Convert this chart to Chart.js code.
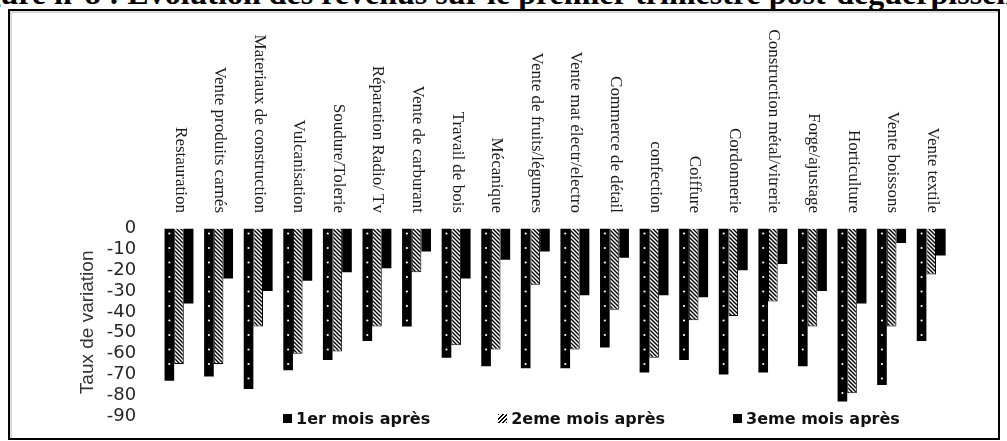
<!DOCTYPE html>
<html>
<head>
<meta charset="utf-8">
<script src="https://cdn.jsdelivr.net/npm/chart.js@4.4.1/dist/chart.umd.min.js"></script>
<style>
  html, body { margin: 0; padding: 0; background: #fff; overflow: hidden; }
  #page { position: relative; width: 1007px; height: 441px; overflow: hidden; }
  #frame { position: absolute; left: 8px; top: 9px; width: 992px; height: 431px;
           border: 2.5px solid #000; box-sizing: border-box; background: #fff;
           box-shadow: inset 2px 2px 0 #d8d8d8; }
  #title { position: absolute; left: -44px; top: -23px; white-space: nowrap;
           font: bold 32px/32px "Liberation Serif", serif; color: #000; }
  #wrap { position: absolute; left: 0; top: 0; width: 1007px; height: 450px; }
  #legend { position: absolute; left: 283px; top: 409px; display: flex; gap: 68px;
            font: bold 16px "DejaVu Sans", sans-serif; color: #111; }
  .item { display: flex; align-items: center; }
  .mk { width: 9px; height: 9px; margin-right: 4px; }
</style>
</head>
<body>
<div id="page">
  <div id="frame"></div>
  <div id="title">Figure n°8 : Evolution des revenus sur le premier trimestre post-déguerpissement</div>
  <div id="wrap"><canvas id="c"></canvas></div>
  <div id="legend"></div>
</div>
<script>
/* ---- Données ---- */
const categories = ['Restauration', 'Vente produits carnés', 'Materiaux de construction', 'Vulcanisation',
  'Soudure/Tolerie', 'Réparation Radio/ Tv', 'Vente de carburant', 'Travail de bois', 'Mécanique',
  'Vente de fruits/légumes', 'Vente mat électr/electro', 'Commerce de détail', 'confection', 'Coiffure',
  'Cordonnerie', 'Construction métal/vitrerie', 'Forge/ajustage', 'Horticulture', 'Vente boissons', 'Vente textile'];

const seriesNames = ['1er mois après', '2eme mois après', '3eme mois après'];

const mois1 = [-73, -71, -77, -68, -63, -54, -47, -62, -66, -67, -67, -57, -69, -63, -70, -69, -66, -83, -75, -54];
const mois2 = [-65, -65, -47, -60, -59, -47, -21, -56, -58, -27, -58, -39, -62, -44, -42, -35, -47, -79, -47, -22];
const mois3 = [-36, -24, -30, -25, -21, -19, -11, -24, -15, -11, -32, -14, -32, -33, -20, -17, -30, -36, -7, -13];

const yTicks = [0, -10, -20, -30, -40, -50, -60, -70, -80, -90];

/* ---- Motif hachuré ---- */
const canvas = document.getElementById('c');
function makeHatch() {
  const p = document.createElement('canvas');
  p.width = 4; p.height = 4;
  const g = p.getContext('2d');
  g.fillStyle = '#fff';
  g.fillRect(0, 0, 4, 4);
  g.strokeStyle = '#000';
  g.lineWidth = 1.4;
  g.beginPath();
  g.moveTo(-1, -1); g.lineTo(5, 5);
  g.moveTo(-1, 3);  g.lineTo(1, 5);
  g.moveTo(3, -1);  g.lineTo(5, 1);
  g.stroke();
  return canvas.getContext('2d').createPattern(p, 'repeat');
}
const hatch = makeHatch();

/* ---- Points blancs sur la 1re série ---- */
const dotsPlugin = {
  id: 'dots',
  afterDatasetsDraw(chart) {
    const ctx = chart.ctx;
    ctx.save();
    ctx.fillStyle = '#fff';
    chart.getDatasetMeta(0).data.forEach(bar => {
      const top = Math.min(bar.y, bar.base);
      const bottom = Math.max(bar.y, bar.base);
      for (let y = top + 5; y < bottom - 3; y += 14.5) {
        ctx.beginPath();
        ctx.arc(bar.x, y, 1.1, 0, Math.PI * 2);
        ctx.fill();
      }
    });
    ctx.restore();
  }
};

/* ---- Libellés verticaux au-dessus des barres ---- */
const catLabels = {
  id: 'catLabels',
  afterDraw(chart) {
    const ctx = chart.ctx;
    const x = chart.scales.x;
    ctx.save();
    ctx.font = '17px "Liberation Serif"';
    ctx.fillStyle = '#1a1a1a';
    ctx.textAlign = 'right';
    ctx.textBaseline = 'middle';
    categories.forEach((c, i) => {
      ctx.save();
      ctx.translate(x.getPixelForValue(i) + 1, 213);
      ctx.rotate(Math.PI / 2);
      ctx.fillText(c, 0, 0);
      ctx.restore();
    });
    ctx.restore();
  }
};

new Chart(canvas, {
  type: 'bar',
  data: {
    labels: categories,
    datasets: [
      { label: seriesNames[0], data: mois1, backgroundColor: '#000', borderWidth: 0 },
      { label: seriesNames[1], data: mois2, backgroundColor: hatch, borderColor: '#000', borderWidth: 1 },
      { label: seriesNames[2], data: mois3, backgroundColor: '#000', borderWidth: 0 },
    ],
  },
  options: {
    responsive: true,
    maintainAspectRatio: false,
    animation: false,
    layout: { padding: { top: 228.5, bottom: 0, left: 72.6, right: 56 } },
    datasets: { bar: { categoryPercentage: 0.73, barPercentage: 1 } },
    plugins: { legend: { display: false }, tooltip: { enabled: false } },
    scales: {
      x: { display: false },
      y: {
        min: -90, max: 0,
        afterBuildTicks: s => { s.ticks = yTicks.map(v => ({ value: v })); },
        afterFit: s => { s.width = 86.6; },
        grid: { display: false, drawTicks: false },
        border: { display: false },
        ticks: { autoSkip: false, padding: 23, color: '#262626', font: { family: 'DejaVu Sans', size: 18 } },
        title: {
          display: true, text: 'Taux de variation', color: '#333',
          font: { family: 'Liberation Sans', size: 19 }, padding: { top: 4, bottom: 0 },
        },
      },
    },
  },
  plugins: [dotsPlugin, catLabels],
});

/* ---- Légende HTML ---- */
const markers = [
  'background:#000',
  'background:repeating-linear-gradient(135deg,#000 0 1.4px,#fff 1.4px 3px)',
  'background:#000',
];
document.getElementById('legend').innerHTML = seriesNames.map((n, i) =>
  `<div class="item"><span class="mk" style="${markers[i]}"></span>${n}</div>`).join('');
</script>
</body>
</html>
